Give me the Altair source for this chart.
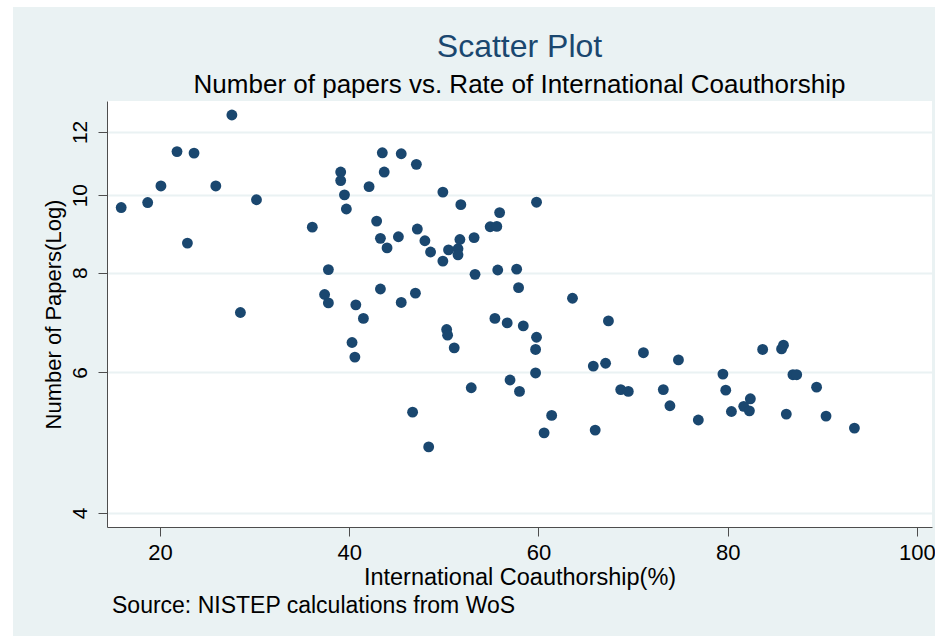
import altair as alt
import pandas as pd

# International co-authorship rate (%) and number of papers (log scale) per field
coauthorship = [
    15.9, 18.7, 20.1, 21.8, 23.6, 25.9, 27.6, 30.2, 22.9, 28.5,
    36.1, 39.1, 39.1, 39.5, 39.7, 42.1, 43.5, 43.7, 42.9, 43.3,
    44.0, 37.8, 37.4, 37.8, 40.7, 41.5, 43.3, 40.3, 40.6, 45.5,
    47.1, 49.9, 51.8, 59.8, 55.9, 54.9, 55.6, 45.2, 47.2, 48.0,
    48.6, 49.9, 50.5, 51.5, 51.7, 51.5, 53.2, 53.3, 55.7, 57.7,
    57.9, 45.5, 47.0, 55.4, 56.7, 58.4, 50.3, 50.4, 51.1, 59.8,
    59.7, 59.7, 63.6, 52.9, 57.0, 58.0, 46.7, 48.4, 61.4, 60.6,
    67.4, 65.8, 67.1, 71.1, 74.8, 68.7, 69.5, 73.2, 73.9, 76.9,
    79.5, 79.8, 83.7, 85.7, 85.9, 86.9, 87.3, 82.4, 81.7, 80.4,
    82.3, 86.2, 89.4, 90.4, 93.4, 66.0,
]
papers = [
    9.65, 9.79, 10.27, 11.34, 11.29, 10.27, 12.60, 9.87, 8.71, 7.13,
    9.12, 10.69, 10.43, 10.01, 9.61, 10.25, 11.30, 10.69, 9.28, 8.83,
    8.59, 8.07, 7.51, 7.33, 7.29, 7.01, 7.63, 6.54, 6.27, 11.27,
    10.93, 10.09, 9.73, 9.80, 9.51, 9.13, 9.14, 8.87, 9.07, 8.77,
    8.49, 8.27, 8.54, 8.57, 8.80, 8.42, 8.85, 7.96, 8.06, 8.08,
    7.66, 7.34, 7.54, 7.01, 6.92, 6.86, 6.79, 6.68, 6.44, 6.64,
    6.41, 5.99, 7.43, 5.74, 5.87, 5.68, 5.35, 4.84, 5.30, 5.04,
    6.96, 6.11, 6.16, 6.35, 6.22, 5.71, 5.68, 5.71, 5.45, 5.23,
    5.97, 5.70, 6.41, 6.42, 6.49, 5.96, 5.96, 5.56, 5.44, 5.36,
    5.37, 5.32, 5.75, 5.29, 5.11, 5.08,
]

x_ticks = [20, 40, 60, 80, 100]
y_ticks = [4, 6, 8, 10, 12]

title_text = "Scatter Plot"
subtitle_text = "Number of papers vs. Rate of International Coauthorship"
x_title = "International Coauthorship(%)"
y_title = "Number of Papers(Log)"
source_note = ["Source: NISTEP calculations from WoS"]

FONT = "Liberation Sans"
NAVY = "#1a476f"
PANEL = "#eaf2f3"
AXIS = "#4d4d4d"

df = pd.DataFrame({"coauthorship": coauthorship, "papers": papers})

points = alt.Chart(df).mark_circle(size=118, color=NAVY, opacity=1).encode(
    x=alt.X(
        "coauthorship:Q",
        scale=alt.Scale(domain=[14.4, 101.6], nice=False, zero=False),
        axis=alt.Axis(
            values=x_ticks, title=x_title, grid=False, format="d",
            labelFontSize=22, titleFontSize=23.5, labelPadding=6, titlePadding=2,
            tickSize=9, tickColor=AXIS, domainColor=AXIS, labelColor="black",
            titleColor="black", titleFontWeight="normal", labelFont=FONT, titleFont=FONT,
        ),
    ),
    y=alt.Y(
        "papers:Q",
        scale=alt.Scale(type="log", domain=[3.842, 13.12], nice=False),
        axis=alt.Axis(
            values=y_ticks, title=y_title, grid=True, gridColor=PANEL, gridWidth=2,
            format="d", labelAngle=270, labelAlign="center", labelBaseline="bottom",
            labelFontSize=21, titleFontSize=22, labelPadding=8, titlePadding=4,
            tickSize=9, tickColor=AXIS, domainColor=AXIS, labelColor="black",
            titleColor="black", titleFontWeight="normal", labelFont=FONT, titleFont=FONT,
        ),
    ),
)

note = alt.Chart(pd.DataFrame({"note": source_note})).mark_text(
    align="left", baseline="middle", fontSize=23, font=FONT, color="black"
).encode(x=alt.value(5), y=alt.value(505), text="note:N")

# white page margin around the shaded panel (top and left)
frame = pd.DataFrame({"k": [0]})
left_strip = alt.Chart(frame).mark_rect(color="white").encode(
    x=alt.value(-107), x2=alt.value(-94), y=alt.value(-101), y2=alt.value(535)
)
top_strip = alt.Chart(frame).mark_rect(color="white").encode(
    x=alt.value(-107), x2=alt.value(828), y=alt.value(-101), y2=alt.value(-94)
)

chart = (
    alt.layer(left_strip, top_strip, points, note)
    .properties(
        width=825,
        height=426,
        autosize=alt.AutoSizeParams(type="none"),
        padding={"left": 107, "top": 101, "right": 3, "bottom": 109},
        background=PANEL,
        title=alt.TitleParams(
            text=title_text,
            subtitle=subtitle_text,
            anchor="middle",
            frame="group",
            font=FONT,
            fontSize=32,
            fontWeight="normal",
            color=NAVY,
            subtitleFont=FONT,
            subtitleFontSize=26,
            subtitleColor="black",
            subtitlePadding=8,
            offset=6,
            # the margin strips reach the canvas top; shift the title back down
            dy=105,
        ),
    )
    .configure_view(fill="white", strokeWidth=0)
)

chart.save("out.html", embed_options={"renderer": "svg", "actions": False})
